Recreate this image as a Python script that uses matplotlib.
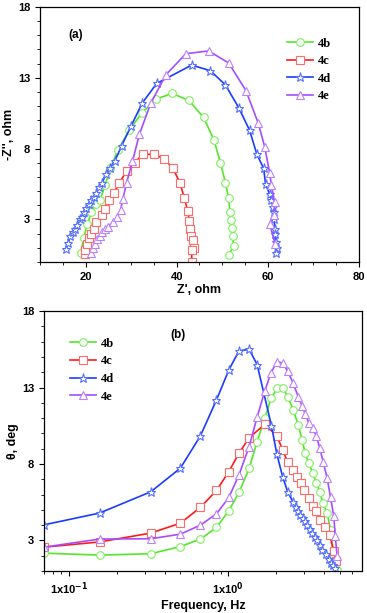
import numpy as np
import matplotlib
matplotlib.use('Agg')
from matplotlib import pyplot as plt
from matplotlib.ticker import FixedLocator, MultipleLocator, LogLocator, NullFormatter

plt.rcParams['font.family'] = 'Liberation Sans'
plt.rcParams['font.weight'] = 'bold'

# ---- (a) Nyquist data: Z' and -Z'' (ohm)
zre_4b = [18.9, 19.6, 20.4, 21.3, 22.3, 23.2, 24.3, 25.4, 27.1, 29.6, 32.3, 35.5, 39.0, 42.7,
          45.9, 48.2, 49.6, 50.7, 51.4, 51.7, 51.9, 52.1, 52.3, 52.5, 51.4]
zim_4b = [0.6, 1.7, 2.7, 3.5, 4.1, 4.4, 5.4, 6.6, 7.9, 9.3, 10.5, 11.5, 11.9, 11.4,
          10.2, 8.6, 7.0, 5.6, 4.5, 3.5, 2.95, 2.4, 1.8, 1.1, 0.5]

zre_4c = [19.9, 19.9, 20.4, 20.7, 21.1, 21.8, 22.4, 23.6, 24.3, 25.1, 26.3, 27.4, 29.0, 30.8,
          32.5, 35.0, 37.2, 39.2, 40.7, 41.7, 42.4, 42.8, 43.0, 43.1, 43.5, 43.8, 43.3, 43.3]
zim_4c = [0.55, 0.85, 1.3, 1.7, 1.95, 2.3, 2.8, 3.35, 3.75, 4.4, 4.9, 5.6, 6.4, 7.0,
          7.6, 7.6, 7.3, 6.6, 5.6, 4.5, 3.6, 2.9, 2.3, 1.8, 1.55, 1.0, 0.85, 0.0]

zre_4d = [15.7, 16.25, 16.6, 17.2, 17.7, 18.2, 18.7, 19.2, 19.6, 20.1, 20.7, 21.25, 21.8, 22.4,
          23.0, 23.7, 24.4, 25.3, 26.4, 27.9, 30.0, 32.4, 35.6, 43.3, 47.4, 50.7, 53.6, 56.0,
          57.6, 59.1, 59.5, 60.4, 60.8, 61.1, 61.3, 61.4, 61.5, 61.5, 61.7, 62.0, 61.7]
zim_4d = [0.9, 1.35, 1.8, 2.1, 2.35, 2.6, 3.0, 3.2, 3.5, 3.8, 4.1, 4.4, 4.6, 4.9,
          5.3, 5.6, 6.2, 6.6, 7.1, 8.2, 9.6, 11.2, 12.6, 13.9, 13.5, 12.5, 10.9, 9.3,
          7.6, 6.6, 5.5, 4.8, 4.4, 3.9, 3.5, 3.0, 2.3, 1.95, 1.4, 1.0, 0.65]

zre_4e = [21.25, 21.6, 22.1, 22.6, 23.1, 23.7, 24.3, 24.9, 26.0, 27.0, 27.7, 28.2, 29.0, 30.3,
          31.8, 34.3, 37.6, 42.0, 47.0, 51.4, 55.2, 57.9, 59.3, 60.4, 60.8, 61.5, 61.4, 60.4, 61.6]
zim_4e = [0.65, 1.0, 1.25, 1.6, 1.8, 2.1, 2.3, 2.5, 2.8, 3.2, 3.7, 4.45, 5.6, 7.1,
          9.0, 11.2, 13.2, 14.7, 14.9, 14.05, 12.1, 9.8, 8.15, 6.3, 5.4, 4.2, 3.35, 2.7, 1.3]

# ---- (b) Bode phase data: frequency (Hz) and theta (deg)
f_4b = [0.07, 0.156, 0.327, 0.502, 0.670, 0.845, 1.01, 1.17, 1.355, 1.52, 1.70, 1.86, 2.03, 2.2,
        2.37, 2.56, 2.75, 2.91, 3.04, 3.2, 3.4, 3.58, 3.76, 3.94, 4.18, 4.39, 4.6, 4.83]
th_4b = [2.17, 2.04, 2.13, 2.6, 3.09, 3.85, 4.94, 6.14, 7.73, 9.47, 11.0, 12.3, 12.96, 13.0,
         12.4, 11.54, 10.56, 9.58, 8.71, 8.05, 7.4, 6.75, 6.14, 5.44, 4.79, 3.7, 1.95, 1.08]

f_4c = [0.07, 0.156, 0.327, 0.502, 0.670, 0.845, 1.01, 1.17, 1.35, 1.70, 2.03, 2.2, 2.37, 2.55,
        2.71, 2.87, 3.01, 3.2, 3.4, 3.58, 3.79, 4.08, 4.33, 4.6, 4.78]
th_4c = [2.56, 2.9, 3.48, 4.13, 5.16, 6.27, 7.5, 8.7, 9.7, 10.6, 9.8, 8.9, 8.1, 7.58,
         7.18, 6.75, 6.3, 5.77, 5.27, 4.9, 4.35, 3.9, 3.37, 2.28, 1.63]

f_4d = [0.07, 0.156, 0.327, 0.502, 0.670, 0.845, 1.01, 1.17, 1.355, 1.52, 1.87, 2.02, 2.2, 2.37,
        2.56, 2.65, 2.74, 2.83, 2.93, 3.03, 3.13, 3.27, 3.38, 3.5, 3.63, 3.76, 3.90, 4.10, 4.30,
        4.45, 4.58, 4.68]
th_4d = [4.02, 4.79, 6.18, 7.73, 9.84, 12.19, 14.15, 15.4, 15.5, 14.5, 10.5, 8.66, 7.14, 6.14,
         5.5, 5.17, 4.9, 4.68, 4.46, 4.25, 4.03, 3.75, 3.5, 3.24, 3.02, 2.67, 2.37, 2.08, 1.8,
         1.54, 1.37, 1.2]

f_4e = [0.07, 0.156, 0.327, 0.502, 0.670, 0.845, 1.01, 1.17, 1.355, 1.52, 1.70, 1.86, 2.03, 2.2,
        2.37, 2.56, 2.75, 2.91, 3.04, 3.2, 3.4, 3.58, 3.76, 3.94, 4.18, 4.39, 4.6, 4.7, 4.83]
th_4e = [2.56, 3.09, 3.11, 3.41, 4.0, 4.74, 5.81, 7.29, 9.14, 11.06, 12.8, 13.98, 14.7, 14.6,
         14.05, 13.28, 12.41, 11.8, 11.28, 10.7, 10.34, 9.8, 9.03, 8.16, 7.07, 5.81, 4.57, 3.26, 1.95]

labels = ['4b', '4c', '4d', '4e']
colors = ['#55e62a', '#ff1a1a', '#1a3cff', '#a64dff']
edge_colors = ['#7ef060', '#ff6a6a', '#5570ff', '#bb80ff']
markers = ['o', 's', '*', '^']

fig = plt.figure(figsize=(3.67, 6.13), dpi=100)
ax1 = fig.add_axes([0.109, 0.5726, 0.869, 0.416])
ax2 = fig.add_axes([0.120, 0.0685, 0.866, 0.424])

nyq = [(zre_4b, zim_4b), (zre_4c, zim_4c), (zre_4d, zim_4d), (zre_4e, zim_4e)]
bode = [(f_4b, th_4b), (f_4c, th_4c), (f_4d, th_4d), (f_4e, th_4e)]

for ax, series in ((ax1, nyq), (ax2, bode)):
    for (x, y), lab, c, ec, m in zip(series, labels, colors, edge_colors, markers):
        ax.plot(x, y, color=c, marker=m, ms=6.5 if m == '*' else 5.5, mfc='white', mec=ec,
                mew=0.8, lw=1.2, label=lab)

ax1.set_xlim(10, 80)
ax1.set_ylim(0, 18)
ax1.xaxis.set_major_locator(FixedLocator([20, 40, 60, 80]))
ax1.xaxis.set_minor_locator(MultipleLocator(5))
ax1.yaxis.set_major_locator(FixedLocator([3, 8, 13, 18]))
ax1.yaxis.set_minor_locator(MultipleLocator(1))
ax1.set_xlabel("Z', ohm", fontsize=9, fontweight='bold', labelpad=2)
ax1.set_ylabel("-Z'', ohm", fontsize=9, fontweight='bold', labelpad=2)
ax1.text(0.088, 0.88, '(a)', transform=ax1.transAxes, fontsize=8.5, fontweight='bold')

ax2.set_xscale('log')
ax2.set_xlim(0.07, 6.9)
ax2.set_ylim(1, 18)
ax2.xaxis.set_major_locator(FixedLocator([0.1, 1.0]))
ax2.xaxis.set_minor_locator(LogLocator(base=10, subs=np.arange(2, 10)))
ax2.xaxis.set_minor_formatter(NullFormatter())
ax2.set_xticklabels([r'1x10$^{-1}$', r'1x10$^{0}$'])
ax2.yaxis.set_major_locator(FixedLocator([3, 8, 13, 18]))
ax2.yaxis.set_minor_locator(MultipleLocator(1))
ax2.set_xlabel('Frequency, Hz', fontsize=9, fontweight='bold', labelpad=2)
ax2.set_ylabel('θ, deg', fontsize=9, fontweight='bold', labelpad=2)
ax2.text(0.396, 0.895, '(b)', transform=ax2.transAxes, fontsize=8.5, fontweight='bold')

for a in (ax1, ax2):
    a.tick_params(which='major', direction='out', length=3.5, width=0.8, labelsize=8,
                  top=False, right=False)
    a.tick_params(which='minor', direction='out', length=2, width=0.6, top=False, right=False)
    for s in a.spines.values():
        s.set_linewidth(0.9)
    for t in a.get_xticklabels() + a.get_yticklabels():
        t.set_fontweight('bold')

leg_kw = dict(frameon=False, prop={'family': 'Liberation Serif', 'weight': 'bold', 'size': 9},
              handlelength=2.1, handletextpad=0.4, labelspacing=0.45, borderaxespad=0,
              borderpad=0)
ax1.legend(loc='upper left', bbox_to_anchor=(0.774, 0.88), **leg_kw)
ax2.legend(loc='upper left', bbox_to_anchor=(0.082, 0.897), **leg_kw)

fig.savefig('out.png', dpi=100)
